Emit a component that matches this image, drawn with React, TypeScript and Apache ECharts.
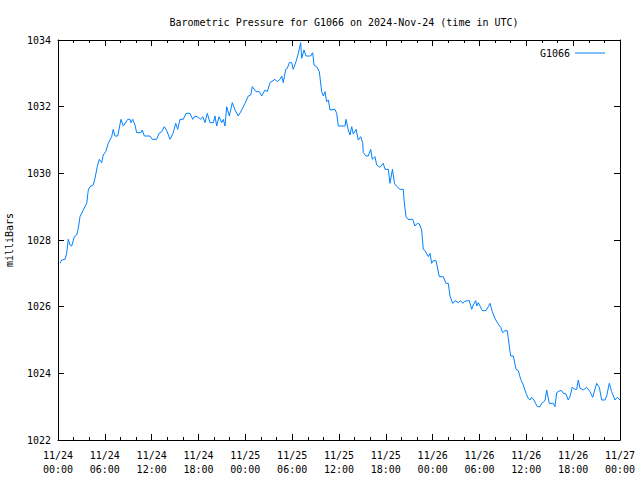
import React, { useEffect, useRef } from "react";
import * as echarts from "echarts";

const title = "Barometric Pressure for G1066 on 2024-Nov-24 (time in UTC)";
const seriesName = "G1066";
const yAxisName = "milliBars";
const xTickLabels = [
  "11/24\n00:00", "11/24\n06:00", "11/24\n12:00", "11/24\n18:00",
  "11/25\n00:00", "11/25\n06:00", "11/25\n12:00", "11/25\n18:00",
  "11/26\n00:00", "11/26\n06:00", "11/26\n12:00", "11/26\n18:00",
  "11/27\n00:00",
];

// hours since 2024-11-24 00:00 UTC
const hours = [
  0.26, 0.47, 0.90, 1.11, 1.32, 1.54, 1.76, 2.09, 2.40, 2.60, 2.82, 3.24, 3.68, 3.88, 4.10, 4.52, 4.74, 5.03, 5.29, 5.60,
  5.80, 6.11, 6.44, 6.88, 7.08, 7.30, 7.65, 8.07, 8.37, 8.93, 9.22, 9.35, 9.57, 9.86, 10.08, 10.63, 10.80, 11.06, 11.79, 12.08,
  12.64, 12.94, 13.29, 13.62, 13.93, 14.35, 14.77, 15.08, 15.33, 15.63, 16.05, 16.40, 16.91, 17.26, 17.55, 17.97, 18.28, 18.54, 18.83, 19.13,
  19.47, 19.90, 20.11, 20.33, 20.63, 20.97, 21.18, 21.39, 21.61, 21.95, 22.33, 22.68, 23.10, 23.53, 23.96, 24.38, 24.69, 24.89, 25.37, 25.79,
  26.10, 26.52, 26.81, 27.16, 27.80, 28.09, 28.44, 28.66, 28.86, 29.17, 29.38, 29.63, 29.94, 30.14, 30.49, 30.79, 31.09, 31.22, 31.52, 31.77,
  32.37, 32.63, 32.80, 33.14, 33.48, 33.78, 33.99, 34.21, 34.42, 34.63, 34.85, 35.49, 35.70, 35.91, 36.77, 36.90, 37.19, 37.41, 37.63, 37.83,
  38.18, 38.47, 38.78, 39.04, 39.11, 39.46, 39.75, 40.06, 40.27, 40.61, 40.83, 41.25, 41.67, 41.89, 42.32, 42.53, 42.85, 43.11, 43.34, 43.81,
  44.24, 44.33, 44.58, 44.84, 45.44, 45.74, 46.03, 46.29, 46.59, 46.80, 47.02, 47.44, 47.66, 47.87, 48.08, 48.43, 48.85, 49.36, 49.71, 50.00,
  50.22, 50.57, 50.86, 51.28, 51.59, 51.85, 52.14, 52.44, 52.69, 53.00, 53.20, 53.51, 53.64, 53.85, 54.06, 54.36, 54.83, 55.13, 55.34, 55.64,
  55.98, 56.28, 56.71, 56.97, 57.27, 57.56, 57.69, 57.91, 58.00, 58.33, 58.68, 58.97, 59.28, 59.61, 59.96, 60.25, 60.47, 60.69, 60.98, 61.40,
  61.75, 61.97, 62.39, 62.61, 62.94, 63.45, 63.67, 63.89, 64.31, 64.53, 64.73, 65.08, 65.37, 65.59, 65.88, 66.23, 66.45, 66.66, 66.87, 67.30,
  67.73, 68.16, 68.50, 69.01, 69.35, 69.65, 70.08, 70.29, 70.63, 70.93, 71.36, 71.65, 72.00,
];

const pressure = [
  1027.30, 1027.40, 1027.42, 1027.60, 1028.02, 1027.85, 1027.82, 1028.10, 1028.15, 1028.35, 1028.70, 1028.90, 1029.10, 1029.50, 1029.60, 1029.65, 1029.85, 1030.20, 1030.42, 1030.32,
  1030.55, 1030.65, 1030.90, 1031.10, 1031.32, 1031.12, 1031.12, 1031.62, 1031.42, 1031.62, 1031.62, 1031.52, 1031.62, 1031.45, 1031.22, 1031.22, 1031.30, 1031.12, 1031.12, 1031.02,
  1031.02, 1031.20, 1031.25, 1031.40, 1031.28, 1031.02, 1031.22, 1031.50, 1031.32, 1031.62, 1031.62, 1031.80, 1031.80, 1031.62, 1031.72, 1031.68, 1031.62, 1031.70, 1031.52, 1031.80,
  1031.52, 1031.52, 1031.72, 1031.42, 1031.70, 1031.52, 1031.62, 1031.42, 1032.00, 1031.72, 1032.12, 1031.90, 1031.72, 1031.90, 1032.10, 1032.32, 1032.35, 1032.60, 1032.45, 1032.45,
  1032.32, 1032.50, 1032.45, 1032.72, 1032.82, 1032.75, 1032.82, 1032.92, 1032.72, 1033.12, 1033.15, 1033.32, 1033.32, 1033.12, 1033.35, 1033.60, 1033.92, 1033.45, 1033.70, 1033.52,
  1033.52, 1033.62, 1033.25, 1033.20, 1033.05, 1032.45, 1032.32, 1032.45, 1032.15, 1032.20, 1031.90, 1031.92, 1031.80, 1031.42, 1031.42, 1031.62, 1031.30, 1031.15, 1031.40, 1031.18,
  1031.32, 1031.00, 1031.10, 1030.90, 1030.62, 1030.52, 1030.52, 1030.72, 1030.42, 1030.50, 1030.25, 1030.18, 1030.30, 1030.12, 1030.12, 1029.70, 1030.12, 1029.70, 1029.62, 1029.52,
  1029.52, 1029.20, 1028.70, 1028.62, 1028.62, 1028.42, 1028.50, 1028.48, 1028.30, 1027.72, 1027.68, 1027.50, 1027.60, 1027.30, 1027.38, 1027.38, 1026.90, 1026.90, 1026.70, 1026.70,
  1026.32, 1026.10, 1026.18, 1026.12, 1026.18, 1026.10, 1026.16, 1026.18, 1026.18, 1025.92, 1026.05, 1026.18, 1026.02, 1026.12, 1026.02, 1025.88, 1025.88, 1026.00, 1026.10, 1025.85,
  1025.65, 1025.52, 1025.38, 1025.22, 1025.28, 1025.28, 1025.05, 1024.65, 1024.52, 1024.52, 1024.12, 1024.08, 1023.82, 1023.65, 1023.40, 1023.25, 1023.20, 1023.28, 1023.20, 1023.00,
  1023.00, 1023.10, 1023.18, 1023.50, 1023.10, 1023.10, 1023.00, 1023.42, 1023.48, 1023.48, 1023.40, 1023.38, 1023.20, 1023.30, 1023.58, 1023.52, 1023.52, 1023.80, 1023.55, 1023.50,
  1023.58, 1023.45, 1023.28, 1023.70, 1023.58, 1023.20, 1023.20, 1023.32, 1023.70, 1023.45, 1023.20, 1023.28, 1023.20,
];

const FONT = "'DejaVu Sans Mono', 'Liberation Mono', monospace";

export default function App() {
  const ref = useRef<HTMLDivElement>(null);
  useEffect(() => {
    if (!ref.current) return;
    const chart = echarts.init(ref.current, null, { renderer: "svg" });
    const data = hours.map((h, i) => [h, pressure[i]]);
    const xCommon = {
      type: "value" as const,
      min: 0,
      max: 72,
      interval: 6,
      splitLine: { show: false },
      axisLine: { show: true, onZero: false, lineStyle: { color: "#000", width: 1 } },
      axisTick: { show: true, inside: true, length: 6, lineStyle: { color: "#000" } },
      minorTick: { show: true, splitNumber: 3, length: 3, lineStyle: { color: "#000" } },
    };
    const yCommon = {
      type: "value" as const,
      min: 1022,
      max: 1034,
      interval: 2,
      splitLine: { show: false },
      axisLine: { show: true, onZero: false, lineStyle: { color: "#000", width: 1 } },
      axisTick: { show: true, inside: true, length: 6, lineStyle: { color: "#000" } },
    };
    chart.setOption({
      animation: false,
      backgroundColor: "#fff",
      textStyle: { fontFamily: FONT },
      title: {
        text: title,
        left: 339,
        top: 12,
        textAlign: "center",
        textStyle: { fontFamily: FONT, fontSize: 10, fontWeight: "normal", color: "#000" },
      },
      legend: {
        right: 30,
        top: 43,
        align: "right",
        icon: "rect",
        itemWidth: 30,
        itemHeight: 1,
        textStyle: { fontFamily: FONT, fontSize: 10, color: "#000" },
        data: [seriesName],
      },
      grid: { left: 58, right: 20, top: 40, bottom: 40, containLabel: false, outerBoundsMode: "none" },
      xAxis: [
        {
          ...xCommon,
          position: "bottom",
          axisLabel: {
            margin: 8,
            fontFamily: FONT,
            fontSize: 10,
            color: "#000",
            lineHeight: 14,
            formatter: (v: number) => xTickLabels[Math.round(v / 6)] ?? "",
          },
        },
        { ...xCommon, position: "top", axisLabel: { show: false } },
      ],
      yAxis: [
        {
          ...yCommon,
          position: "left",
          name: yAxisName,
          nameLocation: "middle",
          nameGap: 44,
          nameTextStyle: { fontFamily: FONT, fontSize: 10, color: "#000" },
          axisLabel: {
            margin: 7,
            fontFamily: FONT,
            fontSize: 10,
            color: "#000",
            formatter: (v: number) => String(v),
          },
        },
        { ...yCommon, position: "right", axisLabel: { show: false } },
      ],
      series: [
        {
          name: seriesName,
          type: "line",
          data,
          showSymbol: false,
          symbol: "none",
          lineStyle: { color: "#0080ff", width: 1 },
          itemStyle: { color: "#0080ff" },
        },
      ],
    });
    return () => chart.dispose();
  }, []);
  return (
    <div
      ref={ref}
      style={{ position: "fixed", left: 0, top: 0, width: 640, height: 480, background: "#fff" }}
    />
  );
}
